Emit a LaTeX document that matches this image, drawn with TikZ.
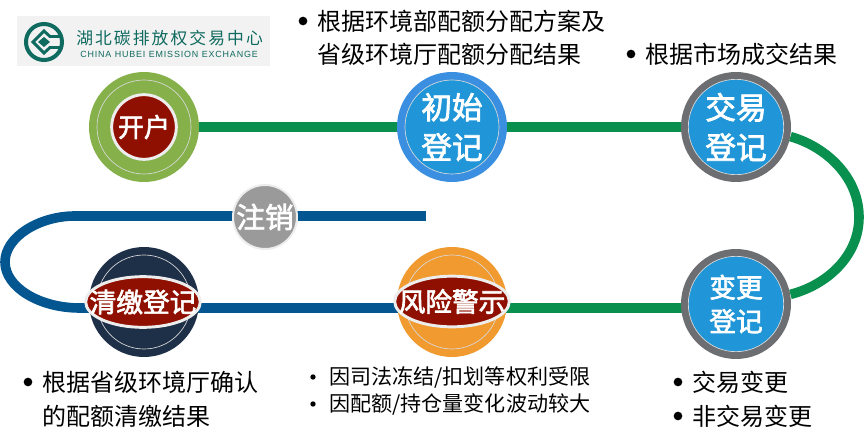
\documentclass[tikz,border=0pt]{standalone}
\usepackage{fontspec}
\setmainfont{Noto Sans CJK SC}
\newfontfamily\med[FakeBold=2.4]{Noto Sans CJK SC}
\newfontfamily\lat[LetterSpace=9.5]{Liberation Sans}
\usetikzlibrary{shapes.geometric}
\pgfdeclarelayer{under}
\pgfsetlayers{under,main}
\definecolor{cGreenDisc}{HTML}{85B04A}
\definecolor{cRed}{HTML}{8F1000}
\definecolor{cNavy}{HTML}{1E2F48}
\definecolor{cOrange}{HTML}{F09A2F}
\definecolor{cGrey}{HTML}{9A9A9A}
\definecolor{cDark}{HTML}{6D6E71}
\definecolor{cBlueIn}{HTML}{2096D8}
\definecolor{cBlueOut}{HTML}{3A8FE0}
\definecolor{cLineG}{HTML}{09904F}
\definecolor{cLineB}{HTML}{03568F}
\definecolor{cTeal}{HTML}{0F6A5F}
\tikzset{
  disc/.style={circle,inner sep=0pt,minimum size=82.5pt,draw=none},
  ringd/.style={circle,inner sep=0pt,minimum size=70.5pt,draw=white!85!black,line width=.5pt},
  redc/.style={circle,inner sep=0pt,minimum size=48.5pt,fill=cRed,draw=white!93!black,line width=2.2pt},
  redo/.style={ellipse,inner sep=0pt,minimum width=86pt,minimum height=38pt,fill=cRed,draw=white!93!black,line width=2.2pt},
  lab/.style={align=center,text=white,inner sep=0pt},
  linkg/.style={line width=7.2pt,cLineG},
  linkb/.style={line width=7.2pt,cLineB},
  bigt/.style={anchor=west,inner sep=0pt,font=\fontsize{18pt}{22pt}\selectfont,text=black},
  smallt/.style={anchor=west,inner sep=0pt,font=\fontsize{15.8pt}{20pt}\selectfont,text=black},
  dotb/.style={circle,fill=black,inner sep=0pt,minimum size=6.5pt},
  dots/.style={circle,fill=black,inner sep=0pt,minimum size=4pt}
}
\begin{document}
\begin{tikzpicture}[x=0.75pt,y=-0.75pt]
\useasboundingbox (0,0) rectangle (865,435);
% logo
\node[fill=black!5,minimum width=189.75pt,minimum height=37.5pt,inner sep=0pt] (logo) at (143.5,41) {};
\node[circle,draw=cTeal,line width=3pt,minimum size=27pt,inner sep=0pt] (emblem) at (44,42) {};
\draw[cTeal,line width=2.2pt,line join=miter] (61,36.5) -- (50,36.5) -- (44,31) -- (33,42) -- (44,53) -- (50,47.5) -- (61,47.5);
\fill[cTeal] (38,42) -- (44,37) -- (50,42) -- (44,47) -- cycle;
\node[anchor=west,inner sep=0pt,text=cTeal,font=\fontsize{12.6pt}{14pt}\selectfont] (logocn) at (76,38) {湖\hspace{1.55pt}北\hspace{1.55pt}碳\hspace{1.55pt}排\hspace{1.55pt}放\hspace{1.55pt}权\hspace{1.55pt}交\hspace{1.55pt}易\hspace{1.55pt}中\hspace{1.55pt}心};
\node[anchor=west,inner sep=0pt,text=cTeal,font=\lat\fontsize{6.7pt}{8pt}\selectfont] (logoen) at (80,54) {CHINA HUBEI EMISSION EXCHANGE};
% discs
\node[disc,fill=cGreenDisc] (kaihu) at (144,127) {};
\node[ringd] (kaihur) at (kaihu) {};
\node[redc] (kaihuc) at (kaihu) {};
\node[lab,font=\med\fontsize{19.5pt}{22pt}\selectfont] (kaihul) at (kaihu) {开户};
\node[disc,fill=cBlueOut] (chushi) at (452,127) {};
\node[ringd,fill=cBlueIn] (chushir) at (chushi) {};
\node[lab,font=\med\fontsize{23pt}{30pt}\selectfont] (chushil) at (chushi) {初始\\登记};
\node[disc,fill=cDark] (jiaoyi) at (736,127) {};
\node[ringd,fill=cBlueIn,minimum size=71.5pt] (jiaoyir) at (jiaoyi) {};
\node[lab,font=\med\fontsize{23pt}{30pt}\selectfont] (jiaoyil) at (jiaoyi) {交易\\登记};
\node[disc,fill=cDark] (biangeng) at (736,304) {};
\node[ringd,fill=cBlueIn,minimum size=71.5pt] (biangengr) at (biangeng) {};
\node[lab,font=\med\fontsize{20pt}{25.5pt}\selectfont] (biangengl) at (biangeng) {变更\\登记};
\node[disc,fill=cOrange] (fengxian) at (452,302) {};
\node[ringd] (fengxianr) at (fengxian) {};
\node[redo] (fengxiane) at (452,301.5) {};
\node[lab,font=\med\fontsize{20pt}{22pt}\selectfont] (fengxianl) at (fengxiane) {风险警示};
\node[disc,fill=cNavy] (qingjiao) at (144,302) {};
\node[ringd] (qingjiaor) at (qingjiao) {};
\node[redo] (qingjiaoe) at (143,302) {};
\node[lab,font=\med\fontsize{20pt}{22pt}\selectfont] (qingjiaol) at (qingjiaoe) {清缴登记};
\node[circle,fill=cGrey,draw=white!93!black,line width=1.5pt,minimum size=48pt,inner sep=0pt] (zhuxiao) at (265,217) {};
\node[lab,font=\med\fontsize{21.5pt}{24pt}\selectfont] (zhuxiaol) at (zhuxiao) {注销};
\coordinate (blueend) at (426,216);
% connectors
\begin{pgfonlayer}{under}
\draw[linkg] (kaihu) -- (chushi);
\draw[linkg] (chushi) -- (jiaoyi);
\draw[linkg] (jiaoyi.-10) .. controls (827,147) and (859,178) .. (859,217) .. controls (859,256) and (827,285) .. (biangeng.10);
\draw[linkg] (biangeng |- 0,308) -- (fengxiane |- 0,308);
\draw[linkb] (fengxiane |- 0,308) -- (qingjiaoe |- 0,308);
\draw[linkb] (qingjiaoe |- 0,308) -- (80,308) .. controls (39,308) and (5,287) .. (5,262) .. controls (5,237) and (39,216) .. (75,216) -- (zhuxiao |- 0,216);
\draw[linkb] (zhuxiao |- 0,216) -- (blueend);
\end{pgfonlayer}
% captions
\node[dotb] (d1) at (303,21) {};
\node[bigt] (t1) at (317,21) {根据环境部配额分配方案及};
\node[bigt] (t1b) at (317,54) {省级环境厅配额分配结果};
\node[dotb] (d2) at (631,54) {};
\node[bigt] (t2) at (645,54) {根据市场成交结果};
\node[dotb] (d3) at (28,382) {};
\node[bigt] (t3) at (42,382) {根据省级环境厅确认};
\node[bigt] (t3b) at (42,416) {的配额清缴结果};
\node[dots] (d4) at (313,377) {};
\node[smallt] (t4) at (329,377) {因司法冻结/扣划等权利受限};
\node[dots] (d5) at (313,404) {};
\node[smallt] (t5) at (329,404) {因配额/持仓量变化波动较大};
\node[dotb] (d6) at (678,382) {};
\node[bigt] (t6) at (692,382) {交易变更};
\node[dotb] (d7) at (678,416) {};
\node[bigt] (t7) at (692,416) {非交易变更};
\end{tikzpicture}
\end{document}
